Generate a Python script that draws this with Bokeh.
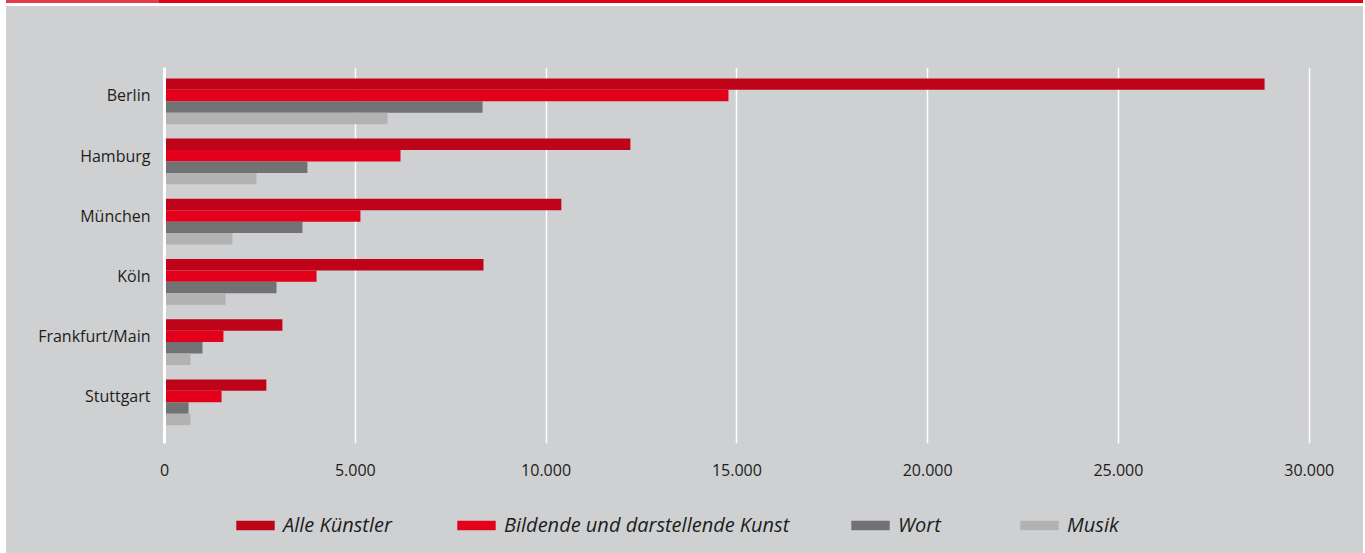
from bokeh.plotting import figure
from bokeh.embed import file_html
from bokeh.resources import INLINE
from bokeh.models import (Legend, LegendItem, FixedTicker, Span, ColumnDataSource)
from bokeh.layouts import column

# ---------------- data ----------------
cities = ["Berlin", "Hamburg", "München", "Köln", "Frankfurt/Main", "Stuttgart"]
series_names = ["Alle Künstler", "Bildende und darstellende Kunst", "Wort", "Musik"]
alle_kuenstler = [28830, 12210, 10400, 8360, 3090, 2670]
bildende_kunst = [14780, 6185, 5135, 3985, 1545, 1495]
wort = [8335, 3745, 3615, 2935, 995, 630]
musik = [5845, 2410, 1780, 1600, 680, 680]
x_ticks = [0, 5000, 10000, 15000, 20000, 25000, 30000]
x_tick_labels = ["0", "5.000", "10.000", "15.000", "20.000", "25.000", "30.000"]

colors = ["#bf0318", "#e2001a", "#727274", "#b2b2b3"]
series_values = [alle_kuenstler, bildende_kunst, wort, musik]

BG = "#cfd0d2"
FONT = "Open Sans"
TEXT = "#1d1d1b"

n = len(cities)
city_pos = [n - 1 - i for i in range(n)]  # Berlin at top

# ---------------- main chart ----------------
p = figure(width=1357, height=490, output_backend="svg", toolbar_location=None,
           x_range=(-131, 30820), y_range=(-0.781, 5.465),
           min_border_left=153, min_border_right=23,
           min_border_top=67, min_border_bottom=47)
p.margin = (0, 0, 0, 6)
p.background_fill_color = None
p.border_fill_color = None
p.outline_line_color = None
p.styles = {"background": "linear-gradient(to right, #e63a4e 0px, #e63a4e 153px, #e2001a 153px) 0 0 / 100% 3px no-repeat, "
                          "linear-gradient(to bottom, #ffffff 0px, #ffffff 6px, " + BG + " 6px)"}

bar_h = 0.19
renderers = []
for k, (vals, col) in enumerate(zip(series_values, colors)):
    ys = [c - 0.096 + (1.5 - k) * bar_h for c in city_pos]
    src = ColumnDataSource(dict(y=ys, right=vals))
    r = p.hbar(y="y", left=0, right="right", height=bar_h, source=src,
               fill_color=col, line_color=None)
    renderers.append(r)

# grid
p.ygrid.grid_line_color = None
p.xgrid.ticker = FixedTicker(ticks=x_ticks)
p.xgrid.grid_line_color = "white"
p.xgrid.grid_line_width = 1.5
p.add_layout(Span(location=0, dimension="height", line_color="white", line_width=3))

# x axis
p.xaxis.ticker = FixedTicker(ticks=x_ticks)
p.xaxis.major_label_overrides = {t: l for t, l in zip(x_ticks, x_tick_labels)}
p.xaxis.axis_line_color = None
p.xaxis.major_tick_line_color = None
p.xaxis.minor_tick_line_color = None
p.xaxis.major_tick_out = 0
p.xaxis.major_tick_in = 0
p.xaxis.major_label_standoff = 20
p.xaxis.major_label_text_font = FONT
p.xaxis.major_label_text_font_size = "16px"
p.xaxis.major_label_text_color = TEXT

# y axis
p.yaxis.ticker = FixedTicker(ticks=city_pos)
p.yaxis.major_label_overrides = {c: name for c, name in zip(city_pos, cities)}
p.yaxis.axis_line_color = None
p.yaxis.major_tick_line_color = None
p.yaxis.minor_tick_line_color = None
p.yaxis.major_tick_out = 0
p.yaxis.major_tick_in = 0
p.yaxis.major_label_standoff = 9
p.yaxis.major_label_text_font = FONT
p.yaxis.major_label_text_font_size = "16px"
p.yaxis.major_label_text_color = TEXT

# ---------------- legend strip ----------------
q = figure(width=1357, height=63, output_backend="svg", toolbar_location=None,
           x_range=(0, 1357), y_range=(0, 63), x_axis_type=None, y_axis_type=None,
           min_border=0)
q.margin = (0, 0, 0, 6)
q.background_fill_color = None
q.border_fill_color = None
q.outline_line_color = None
q.grid.visible = False
q.styles = {"background": BG}

leg_x = [72, 293, 687, 856]
for name, col, lx in zip(series_names, colors, leg_x):
    dummy = q.hbar(y=[-1000], right=[0], left=[0], height=1, fill_color=col, line_color=None)
    lg = Legend(items=[LegendItem(label=name, renderers=[dummy])],
                location=(lx, 15), orientation="horizontal",
                padding=0, margin=0, spacing=0,
                glyph_width=48, glyph_height=12, label_standoff=4,
                label_text_font=FONT, label_text_font_style="italic",
                label_text_font_size="20px", label_text_color=TEXT,
                border_line_color=None, background_fill_alpha=0)
    q.add_layout(lg, "center")

layout = column(p, q, spacing=0)
open("out.html", "w").write(file_html(layout, INLINE))
